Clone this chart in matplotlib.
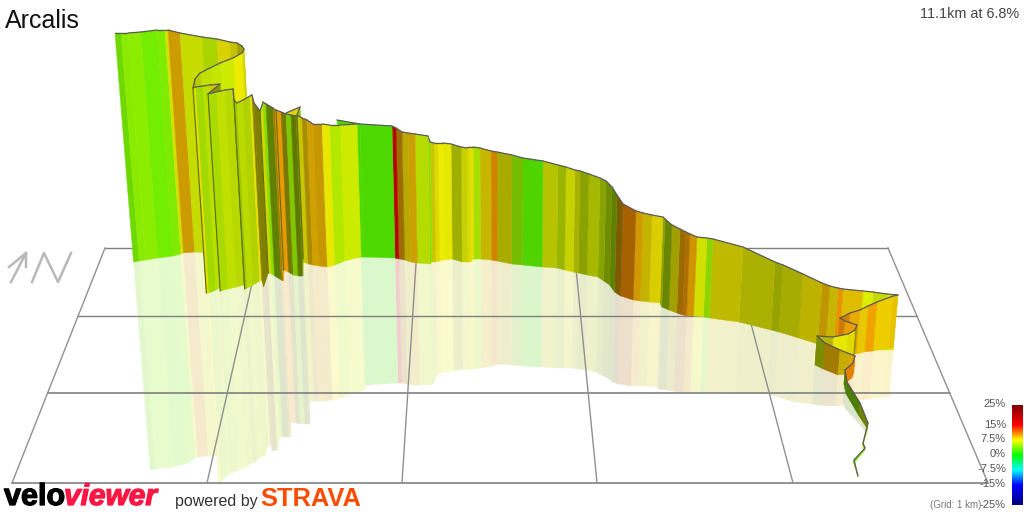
import numpy as np
import matplotlib
matplotlib.use('Agg')
from matplotlib import pyplot as plt
from matplotlib.colors import LinearSegmentedColormap
import matplotlib.patheffects as pe

plt.rcParams['font.family'] = ['Liberation Sans', 'DejaVu Sans']

# screen positions, each wall goes back to front
# long wall, from the right hand end to the left
wall_x = [898,887,873,863,843,838,830,822,803,783,775,743,713,707,697,690,686,680,672,665,663,652,643,636,623,617,612,606,600,589,580,575,566,558,543,523,512,497,491,480,473,470,467,461,451,443,438,434,430,428,415,408,402,396,392,360,337]
wall_top = [295,294,292,291,289,288,286,283,274,265,262,247,239,238,237,234,232,229,225,219,217,215,213,211,204,195,187,181,178,174,171,170,167,165,161,158,155,152,151,148,147,147,148,147,144,143,143,143,142,136,134,133,132,128,126,124,120]
wall_base = [350,350,350,350,349,348,346,344,338,332,330,322,318,317,316,316,315,313,310,307,303,302,301,300,296,292,285,281,277,275,273,272,270,268,267,265,264,261,260,259,259,262,262,262,259,260,261,262,262,264,263,262,260,259,258,257,258]
wall_shadow = [397,398,399,400,402,403,404,404,402,396,394,393,392,392,392,392,392,391,390,389,387,386,386,386,384,382,378,375,372,370,369,368,368,368,367,366,365,364,366,368,369,370,370,369,371,372,373,374,383,385,385,385,384,383,383,385,388]
wall_grade = [7.0,6.7,7.0,8.6,10.3,8.1,9.0,8.0,7.3,6.9,7.3,7.8,5.0,7.0,9.6,10.2,9.8,7.5,6.0,6.4,8.0,8.1,9.4,10.7,9.4,5.6,5.9,6.2,6.8,6.4,7.2,7.1,6.3,6.9,2.8,4.5,7.3,10.3,8.1,5.6,7.5,7.4,7.2,6.8,7.5,7.5,7.75,7.5,4.6,6.1,9.0,8.1,9.6,14.7,2.7,2.7]
wall_shade = [.91,.85,.93,.88,.91,.78,.75,.74,.67,.64,.69,.75,.83,.88,.82,.69,.61,.63,.52,.63,.86,.77,.82,.66,.49,.5,.55,.64,.72,.64,.69,.82,.71,.77,.83,.74,.67,.82,.78,.88,.89,.86,.82,.69,.91,.93,.88,.78,.88,.86,.8,.72,.61,.72,.85,.85]

# right hairpins and the thin start of the climb
hair_x = [898,893,877,868,860,850,840,845,857,855,848,833,817,825,840,850,855,853,845,847,860,868,863,865,854,858]
hair_top = [295,296,302,306,310,313,318,321,325,330,334,337,336,343,350,354,356,363,370,382,403,423,443,448,460,476]
hair_base = [348,348,351,352,354,354,354,354,354,356,358,362,365,369,375,374,373,378,384,394,416,429,446,450,463,477]
hair_shadow = [397,397,399,400,402,403,404,404,402,402,404,406,404,405,406,405,404,404,400,408,423,434,447,452,465,478]
hair_grade = [8.6,8.4,9.9,8.5,9.5,10.3,10.5,9.8,8,7.8,7.5,7.8,6.5,9.2,8.4,9.5,10.8,10.8,4.6,4.6,6.6,6.5,5,3.8,5.5]
hair_shade = [.91,.93,.94,.91,.91,.82,.8,.91,.6,.88,.91,.72,.55,.63,.78,.88,.9,.9,.49,.49,.5,.75,.82,.88,.75]

# short piece in front of the green band
front_x = [286,293,300,297,302,307,313,322,330,340,357]
front_top = [113,110,107,115,118,120,124,124,125,125,124]
front_base = [258,258,258,262,264,265,266,267,265,261,257]
front_shadow = [402,400,400,402,401,401,401,400,398,394,390]
front_grade = [8.2,8.2,4.8,7.5,8.7,9.2,9.3,7.6,5.7,6.5]
front_shade = [.9,.9,.8,.78,.66,.82,.78,.91,.91,.92]

# summit wall, the curl and the zigzag
summit_x = [115,121,128,141,157,165,168,180,202,217,230,237,242,244,242,233,220,210,200,195,193,196,203,210,220,208,216,225,233,234,237,243,250,252,254,260,263,266,273,275,276,281,286,291,296,297]
summit_top = [33,33,33,32,30,30,30,33,37,39,42,43,46,49,53,58,63,68,73,79,88,87,86,85,84,94,92,90,89,100,103,100,96,95,103,111,102,104,108,110,110,112,114,115,116,116]
summit_base = [262,261,260,258,256,254,253,252,253,253,254,255,255,255,258,262,268,275,284,290,293,293,290,286,282,291,289,287,285,289,288,285,281,280,287,273,274,276,280,281,270,272,275,276,276,258]
summit_shadow = [470,469,468,467,463,458,457,456,455,455,455,455,455,456,456,458,462,468,475,480,482,481,475,470,462,473,470,466,462,463,460,456,446,443,451,450,437,437,437,437,422,423,424,424,424,422]
summit_grade = [3.9,4.4,4.3,3.6,4.1,7.2,9.3,6.7,5.9,7.8,7.8,7.5,7.5,7.3,7.5,6.6,6.3,6.3,6.5,6.5,7.5,5.6,6.2,8.3,6.5,5.7,6.3,6.4,6.5,6.0,6.3,6.3,7.7,7.5,7.5,7.2,4.5,5.6,9,10,10,7.5,4.8,6,6]
summit_shade = [.85,.92,.93,.93,.92,.88,.8,.86,.83,.85,.78,.63,.63,.85,.93,.92,.9,.88,.8,.7,.88,.85,.88,.85,.6,.86,.88,.85,.55,.78,.86,.82,.91,.5,.5,.85,.86,.5,.63,.91,.91,.47,.78,.47,.6]
# folds in the zigzag that show as a dark edge
summit_folds = [20, 25, 29, 35, 40, 45]

# floor grid
grid_back = [105,260,417,574,731,888]
grid_front = [12,207,402,597,793,988]
grid_rows = [248,316,393,483]

# gradient scale
scale_values = [25,15,7.5,0,-7.5,-15,-25]
scale_labels = ['25%','15%','7.5%','0%','-7.5%','-15%','-25%']
scale_text_y = [404,425,439,454,469,484,505]
scale_colors = ['#800000','#ff0000','#ffff00','#00ff00','#00ffff','#0000ff','#000080']

VANISH_X, VANISH_Y = 500, 4800
SHADOW_MIX = 0.2

stops = [(v + 25) / 50 for v in scale_values[::-1]]
cmap = LinearSegmentedColormap.from_list('grade', list(zip(stops, scale_colors[::-1])))


def grade_color(g, s):
    r, gr, b, _ = cmap((g + 25) / 50)
    return (r * s, gr * s, b * s)


def lean(x, y_top, y):
    # walls converge on a point far below the picture
    return VANISH_X + (x - VANISH_X) * (VANISH_Y - y) / (VANISH_Y - y_top)


fig = plt.figure(figsize=(10.24, 5.12), dpi=100)
ax = fig.add_axes([0, 0, 1, 1])
ax.set_xlim(0, 1024)
ax.set_ylim(512, 0)
ax.axis('off')

sections = [
    (wall_x, wall_top, wall_base, wall_shadow, wall_grade, wall_shade),
    (hair_x, hair_top, hair_base, hair_shadow, hair_grade, hair_shade),
    (front_x, front_top, front_base, front_shadow, front_grade, front_shade),
    (summit_x, summit_top, summit_base, summit_shadow, summit_grade, summit_shade),
]

# reflections on the floor first, mixed with white so they do not stack up
z = 1
for xs, tops, bases, shadows, grades, shades in sections:
    for i in range(len(grades)):
        bx = [lean(xs[k], tops[k], bases[k]) for k in (i, i + 1)]
        sx = [lean(xs[k], tops[k], shadows[k]) for k in (i, i + 1)]
        c = np.array(grade_color(grades[i], shades[i]))
        c = 1 - (1 - c) * SHADOW_MIX
        ax.fill([bx[0], bx[1], sx[1], sx[0]], [bases[i], bases[i + 1], shadows[i + 1], shadows[i]],
                facecolor=c, edgecolor=c, lw=0.2, zorder=z)
        z += 1

for y, lw in zip(grid_rows, [1, 1, 1.2, 1.2]):
    t = (y - grid_rows[0]) / (grid_rows[-1] - grid_rows[0])
    ax.plot([grid_back[0] + (grid_front[0] - grid_back[0]) * t, grid_back[-1] + (grid_front[-1] - grid_back[-1]) * t],
            [y, y], color='#808080', lw=lw, zorder=z)
for b, f in zip(grid_back, grid_front):
    ax.plot([b, f], [grid_rows[0], grid_rows[-1]], color='#909090', lw=1, zorder=z)
z += 1

for xs, tops, bases, shadows, grades, shades in sections:
    for i in range(len(grades)):
        bx = [lean(xs[k], tops[k], bases[k]) for k in (i, i + 1)]
        c = grade_color(grades[i], shades[i])
        ax.fill([xs[i], xs[i + 1], bx[1], bx[0]], [tops[i], tops[i + 1], bases[i + 1], bases[i]],
                facecolor=c, edgecolor=c, lw=0.3, zorder=z)
        ax.plot(xs[i:i + 2], tops[i:i + 2], color='#5a5a5a', lw=0.9, solid_capstyle='round', zorder=z + 1)
        z += 2
        if xs is summit_x and i + 1 in summit_folds:
            k = i + 1
            ax.plot([xs[k], lean(xs[k], tops[k], bases[k])], [tops[k], bases[k]], color='#5c6c00', lw=0.8, zorder=z + 60)

# north arrow
ax.plot([11, 26], [282, 253], color='#b8b8b8', lw=1.8, zorder=z + 100)
ax.plot([9, 26, 26], [267, 253, 267], color='#b8b8b8', lw=1.8, zorder=z + 100)
ax.plot([32, 44, 58, 71], [282, 253, 282, 253], color='#b8b8b8', lw=1.8, zorder=z + 100)

z += 100
# scale bar
bar_vals = np.linspace(25, -25, 101)
bar_y = np.linspace(405, 505, 101)
ax.pcolormesh([1012, 1023], bar_y, ((bar_vals[:-1] + bar_vals[1:]) / 2 + 25)[:, None] / 50,
              cmap=cmap, vmin=0, vmax=1, zorder=z)
for label, y in zip(scale_labels, scale_text_y):
    ax.text(1006, y, label, ha='right', va='center', fontsize=8, color='#555555', zorder=z)
ax.text(981, 505, '(Grid: 1 km)', ha='right', va='center', fontsize=7, color='#777777', zorder=z)

ax.text(5, 28, 'Arcalis', fontsize=18, color='#111111', va='baseline', zorder=z)
ax.text(1019, 18, '11.1km at 6.8%', fontsize=10.4, color='#444444', ha='right', va='baseline', zorder=z)

# footer logos
stroke = [pe.withStroke(linewidth=0.9, foreground='black')]
ax.text(4, 505, 'velo', fontsize=22, fontweight='bold', color='black', va='baseline', zorder=z, path_effects=stroke)
stroke = [pe.withStroke(linewidth=0.9, foreground='#ff1744')]
ax.text(64, 505, 'viewer', fontsize=21.5, fontweight='bold', style='italic', color='#ff1744', va='baseline', zorder=z, path_effects=stroke)
ax.text(175, 506, 'powered by', fontsize=11.5, color='#333333', va='baseline', zorder=z)
ax.text(260, 506, 'STRAVA', fontsize=18.4, fontweight='bold', color='#fc4c02', va='baseline', zorder=z)

fig.savefig('out.png', dpi=100)
